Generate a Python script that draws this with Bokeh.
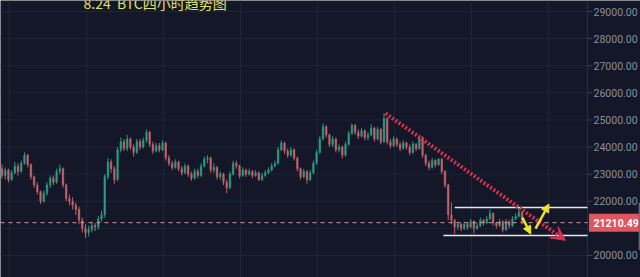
from bokeh.plotting import figure
from bokeh.models import (Range1d, FixedTicker, Grid, Arrow, NormalHead, VeeHead,
                          ColumnDataSource, Label)
from bokeh.core.properties import value
from bokeh.embed import file_html
from bokeh.resources import INLINE

# ---------------- data (4h candles) ----------------
first_open = 23200
closes = [
    22950, 23150, 22800, 23050, 23300, 23100, 23400, 23700, 23350, 22900,
    22600, 22350, 22000, 22300, 22600, 22850, 22700, 23100, 23200, 22600,
    22100, 22000, 21850, 21700, 21300, 21000, 20850, 20950, 21100, 21050,
    21350, 21500, 22900, 23450, 23200, 22800, 23900, 24200, 23950, 24300,
    24000, 23800, 24200, 24000, 24250, 24550, 24100, 23850, 24050, 23900,
    24150, 23600, 23400, 23250, 23450, 23200, 23050, 23300, 23000, 22850,
    23100, 22950, 23300, 23550, 23600, 23150, 23250, 22900, 23000, 22700,
    22500, 23000, 23400, 23300, 22950, 23150, 23000, 23100, 22950, 23050,
    22800, 22950, 23050, 23150, 23300, 23400, 23900, 24150, 23850, 23700,
    23900, 23600, 23200, 22900, 23100, 22800, 23050, 23400, 23800, 24300,
    24750, 24450, 24100, 24300, 23900, 24000, 23700, 24100, 24500, 24800,
    24550, 24400, 24600, 24350, 24450, 24700, 24300, 24650, 24200, 25050,
    24200, 24050, 24300, 24100, 23950, 24150, 24000, 23800, 24100, 23950,
    24350, 23700, 23400, 23250, 23500, 23350, 23550, 23100, 22600, 21500,
    21300, 21050, 21150, 21000, 21150, 21050, 21250, 21000, 21100, 21300,
    21200, 21350, 21550, 21200, 21100, 21250, 20950, 21250, 21100, 21350,
    21450, 21600, 21210.49,
]
highs = [
    23350, 23250, 23200, 23150, 23450, 23400, 23500, 23800, 23750, 23400,
    22950, 22700, 22400, 22400, 22700, 22950, 22950, 23200, 23350, 23250,
    22650, 22250, 22150, 21950, 21800, 21400, 21150, 21100, 21250, 21200,
    21450, 21650, 23000, 23600, 23550, 23300, 24000, 24350, 24300, 24450,
    24350, 24100, 24300, 24300, 24350, 24650, 24600, 24200, 24150, 24150,
    24250, 24200, 23700, 23500, 23550, 23500, 23300, 23400, 23350, 23100,
    23200, 23200, 23400, 23650, 23700, 23650, 23400, 23300, 23100, 23050,
    22800, 23100, 23500, 23500, 23350, 23250, 23200, 23200, 23150, 23150,
    23100, 23050, 23150, 23250, 23400, 23500, 24000, 24250, 24200, 23950,
    24000, 23950, 23650, 23250, 23200, 23150, 23150, 23500, 23900, 24400,
    24870, 24800, 24500, 24400, 24350, 24100, 24050, 24200, 24600, 24870,
    24850, 24650, 24700, 24650, 24550, 24850, 24750, 24750, 24700, 25250,
    25100, 24300, 24400, 24350, 24200, 24250, 24200, 24100, 24200, 24150,
    24450, 24400, 23750, 23500, 23600, 23550, 23600, 23600, 23150, 22650,
    21950, 21350, 21250, 21200, 21250, 21200, 21350, 21300, 21200, 21400,
    21350, 21450, 21700, 21600, 21250, 21350, 21300, 21350, 21300, 21450,
    21550, 21750, 21650,
]
lows = [
    22850, 22800, 22700, 22750, 23000, 22950, 23050, 23350, 23250, 22800,
    22500, 22250, 21900, 21950, 22200, 22500, 22600, 22650, 23000, 22500,
    22000, 21850, 21700, 21500, 21150, 20850, 20650, 20700, 20850, 20900,
    20950, 21250, 21400, 22800, 23050, 22650, 22750, 23800, 23850, 23850,
    23900, 23650, 23750, 23900, 23950, 24150, 24000, 23750, 23800, 23800,
    23850, 23500, 23300, 23150, 23200, 23100, 22950, 23000, 22900, 22750,
    22800, 22850, 22900, 23250, 23400, 23050, 23050, 22800, 22800, 22600,
    22300, 22450, 22950, 23200, 22850, 22900, 22900, 22950, 22850, 22900,
    22750, 22750, 22900, 23000, 23100, 23250, 23350, 23850, 23750, 23600,
    23650, 23500, 23100, 22800, 22850, 22650, 22750, 23000, 23350, 23750,
    24250, 24350, 24000, 24000, 23800, 23800, 23580, 23650, 24050, 24450,
    24450, 24300, 24350, 24250, 24250, 24400, 24200, 24250, 24100, 24150,
    24100, 23950, 24000, 24000, 23850, 23900, 23900, 23700, 23750, 23850,
    23900, 23600, 23300, 23150, 23200, 23250, 23300, 23000, 22500, 21300,
    21150, 20800, 20950, 20900, 20950, 20950, 21000, 20810, 20950, 21050,
    21100, 21150, 21300, 21100, 21000, 21050, 20850, 20900, 21000, 21050,
    21300, 21400, 21150,
]
last_price = 21210.49
price_ticks = [20000, 22000, 23000, 24000, 25000, 26000, 27000, 28000, 29000]
grid_prices = [20000, 21000, 22000, 23000, 24000, 25000, 26000, 27000, 28000, 29000]
time_grid = [2.3, 26.3, 50.3, 74.3, 98.3, 122.3, 146.3, 170.3]
title_text = "8.24\u00a0\u00a0BTC四小时趋势图"

# drawn annotations (in data units: candle index, price)
trend_start = (119.5, 25240)
trend_end = (175.5, 20560)
range_top = (141.0, 21770)
range_bottom = (137.5, 20740)
yellow_down = ((162.1, 21400), (164.7, 20790))
yellow_up = ((166.2, 20990), (170.4, 21900))

# ---------------- layout constants ----------------
X0, X1 = -0.47, 198.9          # whole 640 px canvas
AXIS_X = 182.4                 # price-axis line (~587 px)
PX = (X1 - X0) / 640.0         # candle-index units per pixel
Y0, Y1 = 19188, 29406
PY = (Y1 - Y0) / 277.0

# ---------------- derived ----------------
opens = [first_open] + closes[:-1]
idx = list(range(len(closes)))
GREEN = "#2b9b85"
RED = "#c0636c"
colors = [GREEN if c >= o else RED for o, c in zip(opens, closes)]
body_top = [max(o, c) for o, c in zip(opens, closes)]
body_bot = [min(o, c) for o, c in zip(opens, closes)]
src = ColumnDataSource(dict(x=idx, high=highs, low=lows, top=body_top, bottom=body_bot, color=colors))

BG = "#131727"
GRID = "#1f2437"

p = figure(width=640, height=277, output_backend="svg", toolbar_location=None,
           x_range=Range1d(X0, X1), y_range=Range1d(Y0, Y1),
           min_border=0, x_axis_location=None, y_axis_location=None)
p.background_fill_color = BG
p.border_fill_color = BG
p.outline_line_color = None
p.xgrid.visible = False
p.ygrid.visible = False

# vertical grid
p.add_layout(Grid(dimension=0, ticker=FixedTicker(ticks=time_grid), grid_line_color=GRID))
# horizontal grid (stops at the price axis)
p.segment(x0=[X0] * len(grid_prices), y0=grid_prices, x1=[AXIS_X] * len(grid_prices),
          y1=grid_prices, line_color=GRID, line_width=1)

# price axis: line, ticks, labels
p.segment(x0=[AXIS_X], y0=[Y0], x1=[AXIS_X], y1=[Y1], line_color="#2c3142", line_width=1)
p.segment(x0=[AXIS_X] * len(price_ticks), y0=price_ticks,
          x1=[AXIS_X + 5 * PX] * len(price_ticks), y1=price_ticks,
          line_color="#3a3f50", line_width=1)
p.text(x=[AXIS_X + 6 * PX] * len(price_ticks), y=price_ticks,
       text=[f"{v:.2f}" for v in price_ticks], text_color="#8a8fa0",
       text_font=value("Roboto"), text_font_size="10.5px", text_baseline="middle")

# candles
p.segment(x0="x", y0="low", x1="x", y1="high", color="color", line_width=1, source=src)
p.vbar(x="x", top="top", bottom="bottom", width=0.5, fill_color="color", line_color="color",
       line_width=0.5, source=src)

# last price dashed line
p.segment(x0=[X0], y0=[last_price], x1=[AXIS_X], y1=[last_price], line_color="#d79aa2",
          line_dash="4 4", line_width=1)

# range lines
p.segment(x0=[range_top[0], range_bottom[0]], y0=[range_top[1], range_bottom[1]],
          x1=[AXIS_X, AXIS_X], y1=[range_top[1], range_bottom[1]],
          line_color="#e6e6ee", line_width=1.6)

# red dotted trend line + arrow head
p.add_layout(Arrow(x_start=trend_start[0], y_start=trend_start[1],
                   x_end=trend_end[0], y_end=trend_end[1],
                   line_color="#d8334f", line_width=4, line_dash="2 2",
                   end=VeeHead(size=14, fill_color="#d8334f", line_color="#d8334f", line_width=1)))

# yellow arrows
for (a, b) in (yellow_down, yellow_up):
    p.add_layout(Arrow(x_start=a[0], y_start=a[1], x_end=b[0], y_end=b[1],
                       line_color="#f2e22a", line_width=2.5,
                       end=NormalHead(size=8, fill_color="#f2e22a", line_color="#f2e22a")))

# last price label box
p.quad(left=[AXIS_X + 1.5 * PX], right=[X1], top=[last_price + 9 * PY],
       bottom=[last_price - 9 * PY], fill_color="#e0555e", line_color=None)
p.text(x=[AXIS_X + 6 * PX], y=[last_price], text=[f"{last_price:.2f}"], text_color="white",
       text_font=value("Roboto"), text_font_size="10.5px", text_font_style="bold",
       text_baseline="middle")

# right-edge grey bracket
p.segment(x0=[X1 - 1.2 * PX], y0=[20200], x1=[X1 - 1.2 * PX], y1=[21950],
          line_color="#6a6f80", line_width=1.2)

# title (partly cut at the top)
p.add_layout(Label(x=83, y=275, x_units="screen", y_units="screen", text=title_text,
                   text_color="#e2e25a", text_font="Noto Sans CJK SC", text_font_size="14px",
                   text_baseline="alphabetic"))

open("out.html", "w").write(file_html(p, INLINE))
